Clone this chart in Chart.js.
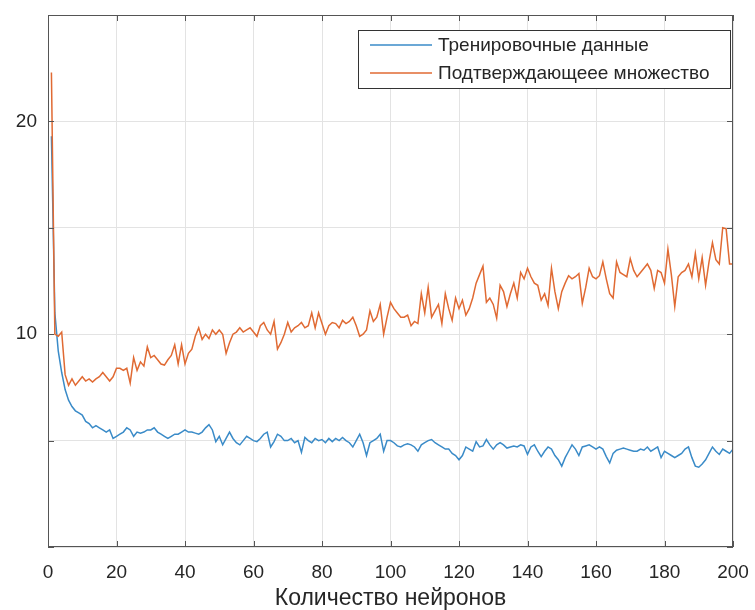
<!DOCTYPE html>
<html>
<head>
<meta charset="utf-8">
<script src="https://cdn.jsdelivr.net/npm/chart.js@4.4.0/dist/chart.umd.min.js"></script>
<style>
  html, body { margin: 0; padding: 0; background: #fff; }
  #wrap { width: 755px; height: 610px; }
</style>
</head>
<body>
<div id="wrap"><canvas id="myChart" width="755" height="610"></canvas></div>
<script>
// значения ошибки для числа нейронов 1..200
const trainLabel = 'Тренировочные данные'
const validLabel = 'Подтверждающеее множество'
const xTitle = 'Количество нейронов'

const trainData = [
  19.3, 11.0, 9.2, 8.2, 7.4, 6.9, 6.6, 6.4, 6.3, 6.2,
  5.9, 5.8, 5.6, 5.7, 5.6, 5.5, 5.4, 5.5, 5.1, 5.2,
  5.3, 5.4, 5.6, 5.5, 5.2, 5.4, 5.35, 5.4, 5.5, 5.5,
  5.6, 5.4, 5.3, 5.2, 5.1, 5.2, 5.3, 5.3, 5.4, 5.5,
  5.4, 5.4, 5.35, 5.3, 5.4, 5.6, 5.75, 5.5, 4.95, 5.2,
  4.8, 5.1, 5.4, 5.1, 4.9, 4.8, 5.0, 5.2, 5.1, 5.0,
  4.95, 5.1, 5.3, 5.4, 4.7, 4.95, 5.3, 5.2, 5.0, 5.0,
  5.1, 4.9, 5.0, 4.45, 5.15, 5.0, 4.9, 5.1, 5.0, 5.05,
  4.9, 5.1, 4.95, 5.1, 5.0, 5.15, 5.0, 4.9, 4.7, 5.0,
  5.3, 4.9, 4.3, 4.9, 5.0, 5.1, 5.3, 4.5, 5.0, 5.0,
  4.9, 4.75, 4.7, 4.8, 4.85, 4.8, 4.7, 4.5, 4.8, 4.9,
  5.0, 5.05, 4.9, 4.8, 4.7, 4.6, 4.6, 4.4, 4.3, 4.1,
  4.3, 4.7, 4.6, 4.5, 4.95, 4.7, 4.75, 5.05, 4.8, 4.6,
  4.8, 4.9, 4.8, 4.65, 4.7, 4.75, 4.7, 4.8, 4.75, 4.35,
  4.7, 4.8, 4.5, 4.25, 4.5, 4.7, 4.6, 4.3, 4.1, 3.8,
  4.2, 4.5, 4.8, 4.6, 4.3, 4.7, 4.75, 4.8, 4.7, 4.6,
  4.7, 4.6, 4.25, 3.95, 4.4, 4.55, 4.6, 4.65, 4.6, 4.55,
  4.5, 4.5, 4.6, 4.55, 4.7, 4.5, 4.6, 4.7, 4.2, 4.5,
  4.4, 4.3, 4.2, 4.3, 4.4, 4.6, 4.7, 4.2, 3.8, 3.75,
  3.9, 4.1, 4.4, 4.7, 4.5, 4.35, 4.6, 4.5, 4.4, 4.6
]

const validData = [
  22.3, 10.0, 9.9, 10.1, 8.1, 7.6, 7.9, 7.6, 7.8, 8.0,
  7.8, 7.9, 7.75, 7.9, 8.0, 8.2, 8.0, 7.8, 8.0, 8.4,
  8.4, 8.3, 8.4, 7.7, 8.9, 8.3, 8.7, 8.5, 9.4, 8.9,
  9.0, 8.8, 8.6, 8.55, 8.8, 9.0, 9.5, 8.6, 9.5, 8.6,
  9.1, 9.3, 9.9, 10.3, 9.75, 10.0, 9.8, 10.2, 10.0, 10.2,
  10.0, 9.1, 9.6, 10.0, 10.1, 10.3, 10.1, 10.2, 10.3, 10.1,
  9.9, 10.4, 10.55, 10.2, 10.0, 10.6, 9.3, 9.6, 10.0, 10.55,
  10.1, 10.3, 10.4, 10.55, 10.3, 10.4, 11.0, 10.3, 11.0, 10.5,
  10.0, 10.4, 10.55, 10.5, 10.3, 10.65, 10.5, 10.6, 10.8, 10.4,
  9.9, 10.0, 10.2, 11.1, 10.6, 10.8, 11.4, 10.0, 10.8, 11.5,
  11.2, 11.0, 10.8, 10.8, 10.9, 10.4, 10.6, 10.5, 11.9, 11.0,
  12.2, 10.8, 11.1, 11.4, 10.5, 11.9, 11.2, 10.65, 11.7, 11.2,
  11.6, 10.9, 11.2, 11.7, 12.4, 12.8, 13.2, 11.5, 11.7, 11.4,
  10.75, 12.3, 12.0, 11.3, 11.9, 12.4, 11.7, 12.9, 12.6, 13.1,
  12.7, 12.4, 12.3, 11.6, 11.9, 11.35, 13.1, 12.0, 11.2, 12.0,
  12.4, 12.75, 12.6, 12.7, 12.85, 11.45, 12.2, 13.1, 12.7, 12.6,
  12.75, 13.4, 12.6, 11.9, 11.7, 13.4, 12.9, 12.8, 12.7, 13.55,
  13.0, 12.7, 12.9, 13.1, 13.3, 13.0, 12.15, 13.0, 12.9, 12.4,
  14.0, 12.8, 11.3, 12.7, 12.9, 13.0, 13.3, 12.7, 13.8, 12.6,
  13.6, 12.3, 13.4, 14.3, 13.5, 13.3, 15.0, 14.95, 13.3, 13.3
]

const xTicks = [0, 20, 40, 60, 80, 100, 120, 140, 160, 180, 200]
const yTicks = [0, 5, 10, 15, 20, 25]
const yShown = [10, 20]

const blue = '#3a8bc8'
const orange = '#e06a33'
const axisColor = '#262626'
const fontFam = '"Liberation Sans", Arial, sans-serif'

const toPoints = arr => arr.map((v, i) => ({ x: i + 1, y: v }))

// рамка, засечки внутрь и легенда в стиле MATLAB
const frame = {
  id: 'frame',
  afterDatasetsDraw(chart) {
    const { ctx, chartArea: a, scales: { x, y } } = chart
    ctx.save()
    ctx.strokeStyle = '#555'
    ctx.lineWidth = 1
    ctx.strokeRect(a.left + 0.5, a.top + 0.5, a.right - a.left - 1, a.bottom - a.top - 1)
    ctx.beginPath()
    xTicks.forEach(t => {
      const px = Math.round(x.getPixelForValue(t)) + 0.5
      ctx.moveTo(px, a.bottom); ctx.lineTo(px, a.bottom - 6)
      ctx.moveTo(px, a.top); ctx.lineTo(px, a.top + 6)
    })
    yTicks.forEach(t => {
      const py = Math.round(y.getPixelForValue(t)) + 0.5
      ctx.moveTo(a.left, py); ctx.lineTo(a.left + 6, py)
      ctx.moveTo(a.right, py); ctx.lineTo(a.right - 6, py)
    })
    ctx.stroke()

    // легенда
    const lx = 358, ly = 30, lw = 372, lh = 58
    ctx.fillStyle = '#fff'
    ctx.fillRect(lx, ly, lw, lh)
    ctx.strokeStyle = '#333'
    ctx.strokeRect(lx + 0.5, ly + 0.5, lw, lh)
    const rows = [[trainLabel, blue, 45], [validLabel, orange, 73]]
    ctx.font = '19px ' + fontFam
    ctx.textBaseline = 'middle'
    ctx.textAlign = 'left'
    rows.forEach(([txt, col, ry]) => {
      ctx.strokeStyle = col
      ctx.lineWidth = 1.5
      ctx.beginPath()
      ctx.moveTo(370, ry); ctx.lineTo(432, ry)
      ctx.stroke()
      ctx.fillStyle = axisColor
      ctx.fillText(txt, 438, ry + 1)
    })
    ctx.restore()
  }
}

const ctx = document.getElementById('myChart').getContext('2d')
const myChart = new Chart(ctx, {
  type: 'line',
  data: {
    datasets: [
      {
        label: trainLabel,
        data: toPoints(trainData),
        borderColor: blue,
        borderWidth: 1.5,
        pointRadius: 0,
        tension: 0,
        order: 2
      },
      {
        label: validLabel,
        data: toPoints(validData),
        borderColor: orange,
        borderWidth: 1.5,
        pointRadius: 0,
        tension: 0,
        order: 1
      }
    ]
  },
  options: {
    responsive: false,
    animation: false,
    layout: { padding: { left: 0, top: 15, right: 22, bottom: 0 } },
    plugins: {
      legend: { display: false },
      tooltip: { enabled: false }
    },
    scales: {
      x: {
        type: 'linear',
        min: 0,
        max: 200,
        afterFit: s => { s.height = 63; s.paddingLeft = 0; s.paddingRight = 0 },
        afterBuildTicks: s => { s.ticks = xTicks.map(v => ({ value: v })) },
        grid: { color: '#e3e3e3', drawTicks: false },
        border: { display: false },
        ticks: {
          padding: 14,
          color: axisColor,
          font: { family: fontFam, size: 19 }
        },
        title: {
          display: true,
          text: xTitle,
          color: axisColor,
          padding: { top: 0, bottom: 0 },
          font: { family: fontFam, size: 23, lineHeight: 1 }
        }
      },
      y: {
        min: 0,
        max: 25,
        afterFit: s => { s.width = 48; s.paddingTop = 0; s.paddingBottom = 0 },
        afterBuildTicks: s => { s.ticks = yTicks.map(v => ({ value: v })) },
        grid: { color: '#e3e3e3', drawTicks: false },
        border: { display: false },
        ticks: {
          padding: 11,
          color: axisColor,
          font: { family: fontFam, size: 19 },
          callback: v => yShown.includes(v) ? String(v) : ''
        }
      }
    }
  },
  plugins: [frame]
})
</script>
</body>
</html>
